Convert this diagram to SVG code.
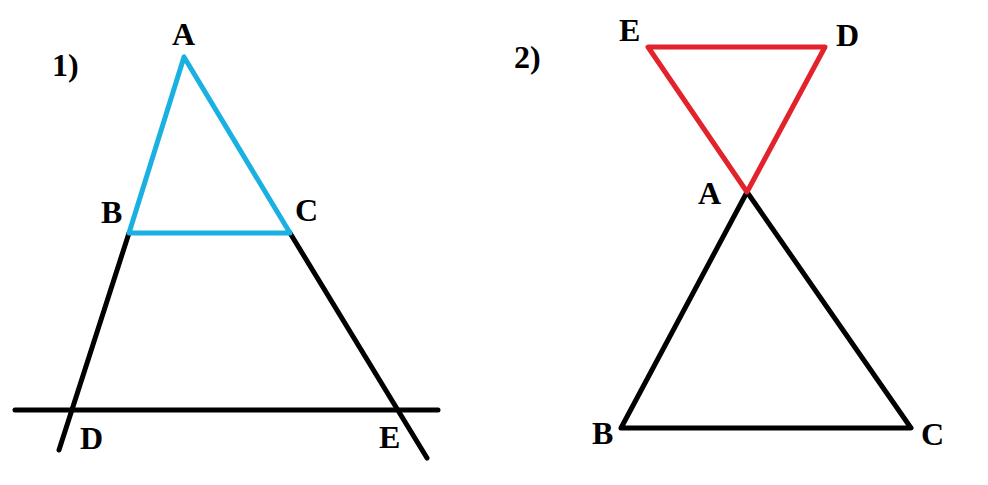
<svg xmlns="http://www.w3.org/2000/svg" width="988" height="485" viewBox="0 0 988 485">
<style>
text{font-family:"Liberation Serif","Times New Roman",serif;font-size:32px;font-weight:bold;fill:#000}
.blue{stroke:#1ab0e2;stroke-width:5;fill:none;stroke-linejoin:round;stroke-linecap:round}
.red{stroke:#e2232c;stroke-width:5;fill:none;stroke-linejoin:round;stroke-linecap:round}
.blk{stroke:#000;stroke-width:5;fill:none;stroke-linejoin:round;stroke-linecap:round}
</style>
<rect width="988" height="485" fill="#fff"/>
<g id="connectors">
<polyline class="blk" points="129,233 59,450"/>
<polyline class="blk" points="290,233 427,458"/>
<line class="blk" x1="15" y1="410" x2="438" y2="410"/>
<polygon class="blue" points="184,57 129,233 290,233"/>
<polyline class="blk" points="621,428 747,192 911,428 621,428"/>
<polygon class="red" points="648,47 825,47 747,192"/>
</g>
<g id="fig1-labels">
<text x="52" y="76">1)</text>
<text x="172" y="45">A</text>
<text x="101" y="223">B</text>
<text x="295" y="221">C</text>
<text x="80" y="449">D</text>
<text x="379" y="448">E</text>
</g>
<g id="fig2-labels">
<text x="514" y="68">2)</text>
<text x="619" y="41">E</text>
<text x="836" y="46">D</text>
<text x="698" y="204">A</text>
<text x="592" y="444">B</text>
<text x="921" y="445">C</text>
</g>
</svg>
